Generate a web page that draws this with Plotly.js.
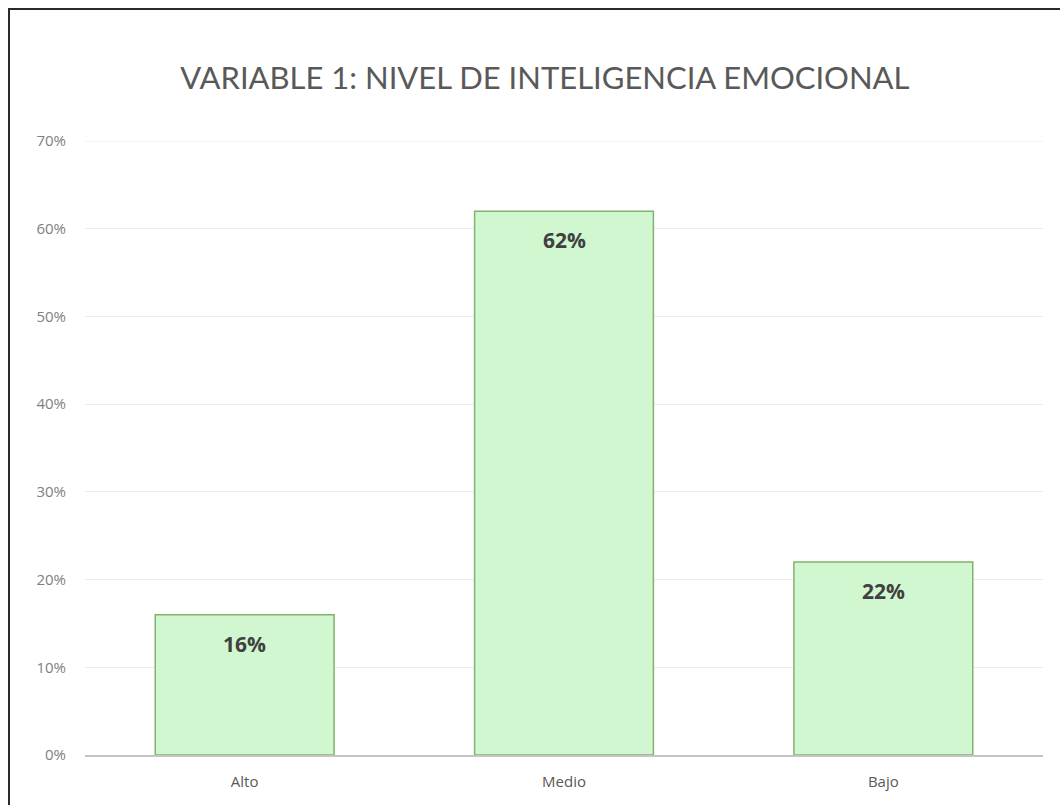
<!DOCTYPE html>
<html>
<head>
<meta charset="utf-8">
<script src="https://cdn.plot.ly/plotly-3.0.1.min.js"></script>
<style>
  html, body { margin: 0; padding: 0; background: #fff; }
  #wrap { position: relative; width: 1060px; height: 805px; overflow: hidden; }
  #frame { position: absolute; left: 8px; top: 8px; width: 1100px; height: 900px;
           border-top: 2px solid #2b2b2b; border-left: 2px solid #2b2b2b; pointer-events: none; z-index: 5; }
  #chart { position: absolute; left: 0; top: 0; width: 1060px; height: 805px; }
</style>
</head>
<body>
<div id="wrap">
  <div id="chart"></div>
  <div id="frame"></div>
</div>
<script>
const categories = ["Alto", "Medio", "Bajo"];
const values = [16, 62, 22];
const yTicks = [0, 10, 20, 30, 40, 50, 60, 70];
const yTickLabels = ["0%", "10%", "20%", "30%", "40%", "50%", "60%", "70%"];
const chartTitle = "VARIABLE 1: NIVEL DE INTELIGENCIA EMOCIONAL";

const trace = {
  type: "bar",
  x: categories,
  y: values,
  width: 0.56,
  marker: { color: "#d0f7d0", line: { color: "#86b070", width: 1.5 } },
  hoverinfo: "skip"
};

const annotations = categories.map((c, i) => ({
  x: c, y: values[i], xref: "x", yref: "y",
  text: values[i] + "%", showarrow: false,
  yanchor: "middle", yshift: -29,
  font: { family: "Open Sans, sans-serif", size: 21, color: "#404040", weight: 700 }
}));

const yMax = yTicks[yTicks.length - 1];
const topGrid = {
  type: "line", xref: "paper", yref: "y", x0: 0, x1: 1, y0: yMax, y1: yMax,
  line: { color: "#ececec", width: 1 }, layer: "below"
};

const layout = {
  width: 1060, height: 805,
  margin: { l: 85, r: 17, t: 141, b: 50, pad: 0 },
  paper_bgcolor: "#fff", plot_bgcolor: "#fff",
  showlegend: false,
  title: {
    text: chartTitle,
    font: { family: "Lato, sans-serif", size: 31, color: "#595959", weight: 400 },
    x: 0.48, xref: "paper", xanchor: "center",
    y: 0.903, yref: "container", yanchor: "middle"
  },
  xaxis: {
    type: "category",
    showgrid: false, showline: true, linecolor: "#c4c4c4", linewidth: 2,
    ticks: "", tickfont: { family: "Open Sans, sans-serif", size: 15, color: "#595959" },
    ticklabelstandoff: 12
  },
  yaxis: {
    range: [0, yMax], tickmode: "array", tickvals: yTicks, ticktext: yTickLabels,
    showgrid: true, gridcolor: "#ececec", gridwidth: 1,
    zeroline: false, showline: false, ticks: "",
    tickfont: { family: "Open Sans, sans-serif", size: 15, color: "#808080" },
    ticklabelstandoff: 18
  },
  shapes: [topGrid],
  annotations: annotations
};

Plotly.newPlot("chart", [trace], layout, { displayModeBar: false, staticPlot: true });
</script>
</body>
</html>
